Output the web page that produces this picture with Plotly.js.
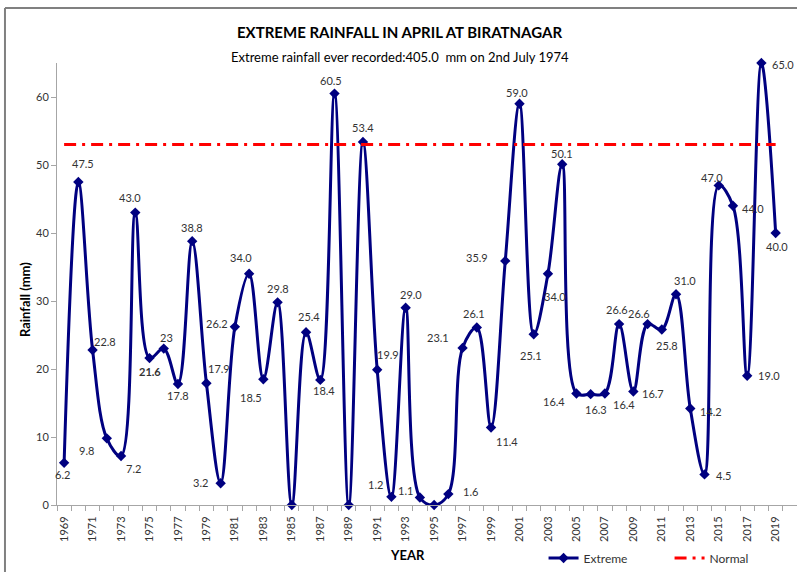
<!DOCTYPE html>
<html>
<head>
<meta charset="utf-8">
<script src="https://cdn.plot.ly/plotly-3.0.1.min.js"></script>
<style>html,body{margin:0;padding:0;background:#fff;}#chart{width:797px;height:572px;}</style>
</head>
<body>
<div id="chart"></div>
<script>
// ---- Data ----
var years = [1969, 1970, 1971, 1972, 1973, 1974, 1975, 1976, 1977, 1978,
  1979, 1980, 1981, 1982, 1983, 1984, 1985, 1986, 1987, 1988,
  1989, 1990, 1991, 1992, 1993, 1994, 1995, 1996, 1997, 1998,
  1999, 2000, 2001, 2002, 2003, 2004, 2005, 2006, 2007, 2008,
  2009, 2010, 2011, 2012, 2013, 2014, 2015, 2016, 2017, 2018, 2019];
var extreme = [6.2, 47.5, 22.8, 9.8, 7.2, 43.0, 21.6, 23, 17.8, 38.8,
  17.9, 3.2, 26.2, 34.0, 18.5, 29.8, 0, 25.4, 18.4, 60.5,
  0, 53.4, 19.9, 1.2, 29.0, 1.1, 0, 1.6, 23.1, 26.1,
  11.4, 35.9, 59.0, 25.1, 34.0, 50.1, 16.4, 16.3, 16.4, 26.6,
  16.7, 26.6, 25.8, 31.0, 14.2, 4.5, 47.0, 44.0, 19.0, 65.0, 40.0];
var normal = [53, 53, 53, 53, 53, 53, 53, 53, 53, 53,
  53, 53, 53, 53, 53, 53, 53, 53, 53, 53,
  53, 53, 53, 53, 53, 53, 53, 53, 53, 53,
  53, 53, 53, 53, 53, 53, 53, 53, 53, 53,
  53, 53, 53, 53, 53, 53, 53, 53, 53, 53, 53];
var labelText = ["6.2","47.5","22.8","9.8","7.2","43.0","<b>21.6</b>","23","17.8","38.8",
  "17.9","3.2","26.2","34.0","18.5","29.8","","25.4","18.4","60.5",
  "","53.4","19.9","1.2","29.0","1.1","","1.6","23.1","26.1",
  "11.4","35.9","59.0","25.1","34.0","50.1","16.4","16.3","16.4","26.6",
  "16.7","26.6","25.8","31.0","14.2","4.5","47.0","44.0","19.0","65.0","40.0"];
var tickYears = [1969, 1971, 1973, 1975, 1977, 1979, 1981, 1983, 1985, 1987,
  1989, 1991, 1993, 1995, 1997, 1999, 2001, 2003, 2005, 2007,
  2009, 2011, 2013, 2015, 2017, 2019];
var yTicks = [0, 10, 20, 30, 40, 50, 60];

// ---- Label offsets from their point, in pixels [dx, dy down] (style) ----
var labelOffsetX = [-2, 5, 12, -20, 12, -5, 0, 3, 0, 0,
  13, -20, -18, -8, -12, 0, 0, 3, 4, -4,
  0, 0, 11, -16, 5, -14, 0, 22, -25, -3,
  16, -28, -3, -3, 7, 0, -22, 5, 19, -2,
  20, -9, 5, 9, 21, 19, -7, 20, 22, 22, 1];
var labelOffsetY = [12, -19, -8, 12, 12, -15, 13, -11, 12, -14,
  -15, -1, -3, -16, 18, -14, 0, -16, 11, -13,
  0, -14, -15, -12, -13, -7, 0, -3, -10, -14,
  14, -3, -11, 21, 23, -11, 8, 15, 11, -15,
  2, -11, 16, -14, 3, 1, -8, 3, 0, 1, 13];

var FONT = "Lato, 'Open Sans', sans-serif";
var TXT = "#333333";

var traces = [
  {
    x: years, y: extreme, name: "Extreme", type: "scatter", mode: "lines+markers",
    line: {color: "#000080", width: 3, shape: "spline", smoothing: 1},
    marker: {symbol: "diamond", size: 8, color: "#000080"},
    cliponaxis: false
  },
  {
    x: years, y: normal, name: "Normal", type: "scatter", mode: "lines",
    line: {color: "#ff0000", width: 3, dash: "12px,6px,3px,6px"}
  }
];

var annotations = [
  {text: "<b>EXTREME RAINFALL IN APRIL AT BIRATNAGAR</b>", xref: "paper", yref: "paper",
    x: 0.4635, y: 1.070, xanchor: "center", yanchor: "middle", showarrow: false,
    font: {family: FONT, size: 15, color: "#000000"}},
  {text: "Extreme rainfall ever recorded:405.0  mm on 2nd July 1974", xref: "paper", yref: "paper",
    x: 0.4635, y: 1.0136, xanchor: "center", yanchor: "middle", showarrow: false,
    font: {family: FONT, size: 13, color: "#000000"}},
  {text: "<b>Rainfall (mm)</b>", xref: "paper", yref: "paper", x: -0.0432, y: 0.4638,
    xanchor: "center", yanchor: "middle", textangle: -90, showarrow: false,
    font: {family: FONT, size: 13, color: "#000000"}},
  {text: "<b>YEAR</b>", xref: "paper", yref: "paper", x: 0.4743, y: -0.113,
    xanchor: "center", yanchor: "middle", showarrow: false,
    font: {family: FONT, size: 13, color: "#000000"}}
];
for (var i = 0; i < years.length; i++) {
  if (!labelText[i]) continue;
  annotations.push({
    x: years[i], y: extreme[i], xref: "x", yref: "y", text: labelText[i],
    showarrow: false, xanchor: "center", yanchor: "middle",
    xshift: labelOffsetX[i], yshift: -labelOffsetY[i],
    font: {family: FONT, size: 11, color: TXT}
  });
}

var layout = {
  width: 797, height: 572,
  margin: {l: 57, r: 0, t: 63, b: 67, autoexpand: false},
  paper_bgcolor: "#ffffff", plot_bgcolor: "#ffffff",
  font: {family: FONT, size: 11, color: TXT},
  showlegend: true,
  legend: {orientation: "h", xref: "container", yref: "container",
    x: 0.682, xanchor: "left", y: 0.0245, yanchor: "middle",
    font: {family: FONT, size: 12, color: TXT}, entrywidth: 81, entrywidthmode: "pixels",
    bgcolor: "rgba(0,0,0,0)"},
  xaxis: {
    range: [1968.5, 2020.5], automargin: false,
    tickmode: "array", tickvals: tickYears, ticktext: tickYears.map(String),
    tickangle: -90, ticks: "", ticklabelstandoff: 6, showgrid: false, zeroline: false,
    showline: true, linecolor: "#a6a6a6", linewidth: 1,
    tickfont: {family: FONT, size: 11, color: TXT},
    minor: {tick0: 1968.5, dtick: 1, ticks: "outside", ticklen: 5, tickcolor: "#a6a6a6", showgrid: false}
  },
  yaxis: {
    range: [0, 65], automargin: false, tickmode: "array", tickvals: yTicks,
    ticks: "outside", ticklen: 5, tickcolor: "#a6a6a6",
    showgrid: false, zeroline: false, showline: true, linecolor: "#a6a6a6", linewidth: 1,
    tickfont: {family: FONT, size: 11, color: TXT}
  },
  annotations: annotations,
  shapes: [
    {type: "line", xref: "paper", yref: "paper", x0: -0.0703, x1: 1.01, y0: 1.1244, y1: 1.1244,
      line: {color: "#808080", width: 2}},
    {type: "line", xref: "paper", yref: "paper", x0: -0.0703, x1: -0.0703, y0: 1.1244, y1: -0.2,
      line: {color: "#808080", width: 2}}
  ]
};

Plotly.newPlot("chart", traces, layout, {displayModeBar: false, staticPlot: true});
</script>
</body>
</html>
